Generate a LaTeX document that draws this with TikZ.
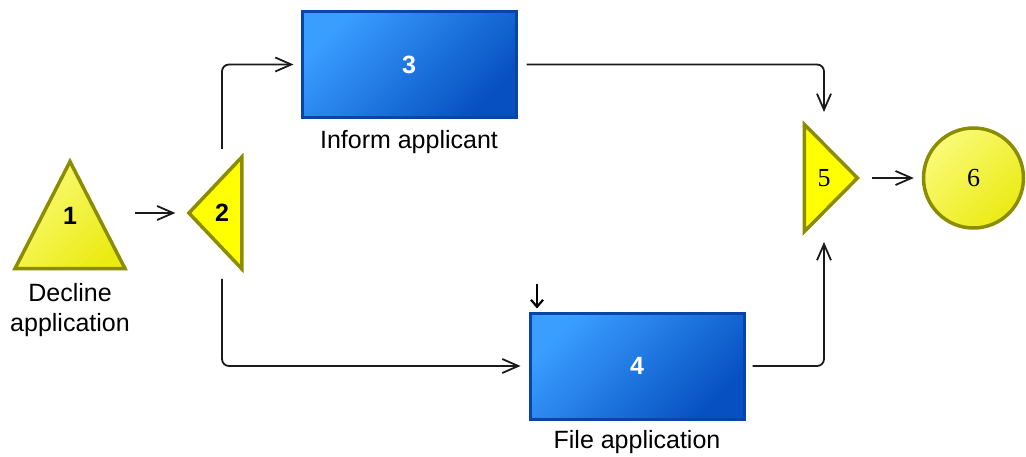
\documentclass[tikz,border=0pt]{standalone}
\usepackage{fontspec}
\setmainfont{Liberation Sans}
\newfontfamily\numserif{Liberation Serif}
\usepackage{xcolor}
\usepackage{tikz}
\usetikzlibrary{arrows.meta,positioning,shapes.geometric}
\definecolor{gateolive}{HTML}{8C8C00}
\definecolor{gateyellow}{HTML}{FFFF00}
\definecolor{paleyellow}{HTML}{FAFA78}
\definecolor{deepyellow}{HTML}{EBEB14}
\definecolor{tasklight}{HTML}{3A9EFF}
\definecolor{taskdark}{HTML}{0650C2}
\definecolor{taskedge}{HTML}{0746A8}
\definecolor{darkgray}{HTML}{1A1A1A}

\begin{document}
\begin{tikzpicture}[
  x=1pt,y=-1pt,
  every node/.style={font=\fontsize{25}{30}\selectfont},
  gate/.style={isosceles triangle,isosceles triangle stretches,draw=gateolive,line width=3.5pt,fill=gateyellow,inner sep=0pt,font=\fontsize{25}{30}\selectfont\bfseries},
  task/.style={rectangle,draw=taskedge,line width=3pt,top color=tasklight,bottom color=taskdark,shading angle=45,minimum width=214pt,minimum height=106pt,text=white,font=\fontsize{25}{30}\selectfont\bfseries},
  lbl/.style={inner sep=0pt,align=center},
  arrow/.style={-{Straight Barb[length=16pt,width=14pt]},line width=1.8pt,color=darkgray,rounded corners=7pt}
]
\useasboundingbox (0,0) rectangle (1026,457);

\node[gate,shape border rotate=90,minimum height=107pt,minimum width=110pt,top color=paleyellow,bottom color=deepyellow,shading angle=45,
  label={[font=\fontsize{25}{30}\selectfont\bfseries,yshift=19pt]center:1}] (t1) at (70,235) {};
\node[gate,shape border rotate=180,minimum height=53pt,minimum width=112pt] (t2) at (222,213) {2};
\node[task] (r3) at (409,64.5) {3};
\node[task] (r4) at (637,366) {4};
\node[gate,shape border rotate=0,minimum height=53pt,minimum width=107pt,font=\numserif\fontsize{26}{30}\selectfont] (t5) at (824,178) {5};
\node[circle,draw=gateolive,line width=3.5pt,top color=paleyellow,bottom color=deepyellow,shading angle=45,minimum size=100pt,inner sep=0pt,font=\numserif\fontsize{26}{30}\selectfont] (c6) at (973.5,178) {6};

\node[lbl,anchor=north] (l1) at (70,283) {Decline\\application};
\node[lbl,below=11pt of r3] (l3) {Inform applicant};
\node[lbl,below=10pt of r4] (l4) {File application};

% start marker on task 4
\coordinate (s4) at (537,284);
\draw[-{Straight Barb[length=7pt,width=12pt]},line width=2.2pt,shorten >=3pt] (s4) -- (s4 |- r4.north);

\draw[arrow,shorten <=65pt] (t1.center |- t2.apex) -- ([xshift=-9pt]t2.apex);
\draw[arrow] ([yshift=64pt]t2.center) |- ([xshift=-7pt]r3.west);
\draw[arrow] ([yshift=-66pt]t2.center) |- ([xshift=-8pt]r4.west);
\draw[arrow] ([xshift=9pt]r3.east) -| ([yshift=66pt]t5.center);
\draw[arrow] ([xshift=7pt]r4.east) -| ([yshift=-64pt]t5.center);
\draw[arrow] ([xshift=10pt]t5.apex) -- ([xshift=-8pt]c6.west);
\end{tikzpicture}
\end{document}
